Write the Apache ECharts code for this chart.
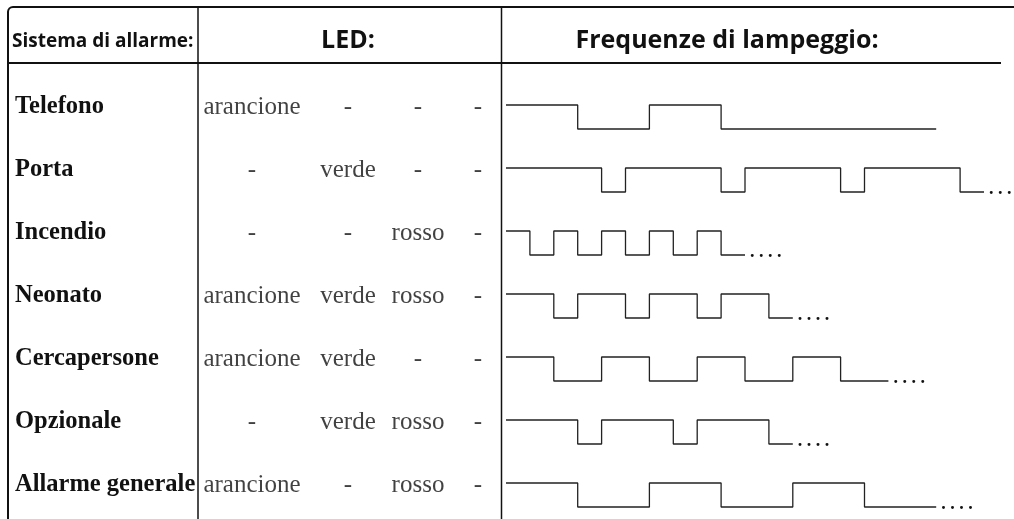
<!DOCTYPE html>
<html><head><meta charset="utf-8">
<script src="https://cdn.jsdelivr.net/npm/echarts@6/dist/echarts.min.js"></script>
<style>html,body{margin:0;padding:0;background:#fff}#c{width:1014px;height:519px}</style>
</head><body><div id="c"></div>
<script>
// ---------- data ----------
const headers = ['Sistema di allarme:', 'LED:', 'Frequenze di lampeggio:'];
const rowNames = ['Telefono', 'Porta', 'Incendio', 'Neonato', 'Cercapersone', 'Opzionale', 'Allarme generale'];
const ledArancione = ['arancione', '-', '-', 'arancione', 'arancione', '-', 'arancione'];
const ledVerde = ['-', 'verde', '-', 'verde', 'verde', 'verde', '-'];
const ledRosso = ['-', '-', 'rosso', 'rosso', '-', 'rosso', 'rosso'];
const ledQuarto = ['-', '-', '-', '-', '-', '-', '-'];
// blink patterns: [time unit, level] at each transition (1 = on, 0 = off)
const blinkTelefono = [[0,1],[3,0],[6,1],[9,0],[18,0]];
const blinkPorta = [[0,1],[4,0],[5,1],[9,0],[10,1],[14,0],[15,1],[19,0],[20,0]];
const blinkIncendio = [[0,1],[1,0],[2,1],[3,0],[4,1],[5,0],[6,1],[7,0],[8,1],[9,0],[10,0]];
const blinkNeonato = [[0,1],[2,0],[3,1],[5,0],[6,1],[8,0],[9,1],[11,0],[12,0]];
const blinkCercapersone = [[0,1],[2,0],[4,1],[6,0],[8,1],[10,0],[12,1],[14,0],[16,0]];
const blinkOpzionale = [[0,1],[3,0],[4,1],[7,0],[8,1],[11,0],[12,0]];
const blinkAllarme = [[0,1],[3,0],[6,1],[9,0],[12,1],[15,0],[18,0]];
const continues = [false, true, true, true, true, true, true];

// ---------- layout / style ----------
const blinks = [blinkTelefono, blinkPorta, blinkIncendio, blinkNeonato, blinkCercapersone, blinkOpzionale, blinkAllarme];
const ledCols = [ledArancione, ledVerde, ledRosso, ledQuarto];
const colCenters = [252, 348, 418, 478];
const ROW0 = 75.5, ROWH = 63;
const INK = '#111';
const serif = 'Liberation Serif';
const sans = 'Open Sans';

const grids = [], xAxes = [], yAxes = [], series = [];
// name column (labels of a category axis)
grids.push({left: 198, top: ROW0, width: 10, height: ROWH * 7});
xAxes.push({type: 'category', gridIndex: 0, data: ['n'], show: false});
yAxes.push({type: 'category', gridIndex: 0, data: rowNames, inverse: true,
  axisLine: {show: false}, axisTick: {show: false}, splitLine: {show: false},
  axisLabel: {margin: 183, align: 'left', fontFamily: serif, fontWeight: 'bold', fontSize: 24.5, color: INK}});

// LED columns
ledCols.forEach((col, c) => {
  const g = grids.length;
  grids.push({left: colCenters[c] - 20, top: ROW0, width: 40, height: ROWH * 7});
  xAxes.push({type: 'category', gridIndex: g, data: ['c'], show: false});
  yAxes.push({type: 'category', gridIndex: g, data: rowNames, inverse: true, show: false});
  series.push({type: 'scatter', xAxisIndex: g, yAxisIndex: g, symbolSize: 1,
    itemStyle: {color: 'transparent'}, silent: true,
    data: col.map((t, i) => ({name: t, value: [0, i]})),
    label: {show: true, position: 'inside', formatter: '{b}', fontFamily: serif, fontSize: 25, color: INK}});
});

// waveform rows
blinks.forEach((b, i) => {
  const g = grids.length;
  grids.push({left: 506, width: 478, top: 105 + ROWH * i, height: 24});
  xAxes.push({type: 'value', gridIndex: g, min: 0, max: 20, show: false});
  yAxes.push({type: 'value', gridIndex: g, min: 0, max: 1, show: false});
  series.push({type: 'line', xAxisIndex: g, yAxisIndex: g, step: 'end', data: b,
    symbol: 'none', clip: false, silent: true,
    lineStyle: {color: '#222', width: 1.3},
    endLabel: {show: continues[i], formatter: '. . . .', distance: 5, offset: [0, -3],
      fontFamily: serif, fontWeight: 'bold', fontSize: 18, color: INK}});
});

const chart = echarts.init(document.getElementById('c'), null, {renderer: 'canvas'});
chart.setOption({
  animation: false,
  backgroundColor: '#fff',
  title: [
    {text: headers[0], left: 12, top: 32, padding: 0, textStyle: {fontFamily: sans, fontWeight: 'bold', fontSize: 19, color: INK}},
    {text: headers[1], left: 348, top: 28, padding: 0, textAlign: 'center', textStyle: {fontFamily: sans, fontWeight: 'bold', fontSize: 25, color: INK}},
    {text: headers[2], left: 727, top: 28, padding: 0, textAlign: 'center', textStyle: {fontFamily: sans, fontWeight: 'bold', fontSize: 25, color: INK}}
  ],
  graphic: [
    {type: 'rect', silent: true, shape: {x: 8, y: 7, width: 1300, height: 700, r: [5, 0, 0, 0]},
      style: {fill: 'none', stroke: INK, lineWidth: 2}},
    {type: 'line', silent: true, shape: {x1: 8, y1: 63, x2: 1001, y2: 63}, style: {stroke: INK, lineWidth: 2}},
    {type: 'line', silent: true, shape: {x1: 198, y1: 7, x2: 198, y2: 519}, style: {stroke: INK, lineWidth: 1.5}},
    {type: 'line', silent: true, shape: {x1: 501.5, y1: 7, x2: 501.5, y2: 519}, style: {stroke: INK, lineWidth: 1.5}}
  ],
  grid: grids, xAxis: xAxes, yAxis: yAxes, series: series
});
</script></body></html>
